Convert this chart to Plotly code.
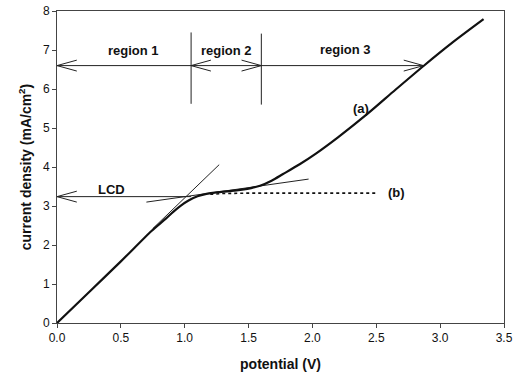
import plotly.graph_objects as go

# ---- data ----
pot_a = [0, 0.25, 0.5, 0.74, 0.85, 0.91, 0.97, 1.03, 1.1, 1.17, 1.25, 1.35, 1.45,
         1.52, 1.59, 1.68, 1.77, 1.9, 2.03, 2.2, 2.43, 2.65, 2.87, 3.1, 3.34]
cur_a = [0, 0.79, 1.58, 2.36, 2.67, 2.85, 3.01, 3.14, 3.25, 3.31, 3.35, 3.38, 3.42,
         3.46, 3.52, 3.65, 3.82, 4.07, 4.35, 4.76, 5.36, 5.98, 6.59, 7.2, 7.79]

pot_b = [1.2, 1.3, 1.5, 2.0, 2.51]
cur_b = [3.30, 3.32, 3.33, 3.33, 3.33]

# tangent lines
tan1_x = [0.75, 1.27]
tan1_y = [2.42, 4.06]
tan2_x = [0.70, 1.97]
tan2_y = [3.10, 3.69]

# horizontal arrows: (x_start, x_end, y, head_left, head_right)
arrow_x0 = [0.0, 1.05, 1.6, 0.0]
arrow_x1 = [1.05, 1.6, 2.87, 1.05]
arrow_y = [6.6, 6.6, 6.6, 3.24]
arrow_hl = [True, True, False, True]
arrow_hr = [False, True, True, False]

# vertical region dividers
div_x = [1.05, 1.6]
div_y0 = [5.62, 5.6]
div_y1 = [7.45, 7.42]

# text labels
lab_text = ["region 1", "region 2", "region 3", "LCD", "(a)", "(b)"]
lab_x = [0.6, 1.33, 2.26, 0.43, 2.38, 2.66]
lab_y = [7.0, 7.0, 7.02, 3.42, 5.5, 3.34]

x_ticks = [0, 0.5, 1.0, 1.5, 2.0, 2.5, 3.0, 3.5]
y_ticks = [0, 1, 2, 3, 4, 5, 6, 7, 8]

HEAD_DX = 0.155
HEAD_DY = 0.14
FONT = "Liberation Sans, Arial, sans-serif"

fig = go.Figure()

thin = dict(color="#222", width=1)
fig.add_trace(go.Scatter(x=tan1_x, y=tan1_y, mode="lines", line=thin, hoverinfo="skip"))
fig.add_trace(go.Scatter(x=tan2_x, y=tan2_y, mode="lines", line=thin, hoverinfo="skip"))

for x0, x1, y, hl, hr in zip(arrow_x0, arrow_x1, arrow_y, arrow_hl, arrow_hr):
    xs = [x0, x1]
    ys = [y, y]
    if hl:
        xs += [None, x0 + HEAD_DX, x0, x0 + HEAD_DX]
        ys += [None, y + HEAD_DY, y, y - HEAD_DY]
    if hr:
        xs += [None, x1 - HEAD_DX, x1, x1 - HEAD_DX]
        ys += [None, y + HEAD_DY, y, y - HEAD_DY]
    fig.add_trace(go.Scatter(x=xs, y=ys, mode="lines", line=thin, hoverinfo="skip"))

for x, y0, y1 in zip(div_x, div_y0, div_y1):
    fig.add_trace(go.Scatter(x=[x, x], y=[y0, y1], mode="lines", line=thin, hoverinfo="skip"))

fig.add_trace(go.Scatter(x=pot_b, y=cur_b, mode="lines",
                         line=dict(color="#111", width=1.6, dash="dot")))
fig.add_trace(go.Scatter(x=pot_a, y=cur_a, mode="lines",
                         line=dict(color="#111", width=2.2, shape="spline", smoothing=0.8)))

for t, x, y in zip(lab_text, lab_x, lab_y):
    fig.add_annotation(x=x, y=y, text="<b>" + t + "</b>", showarrow=False,
                       font=dict(family=FONT, size=13, color="#111"))

axis_common = dict(
    showline=True, linecolor="#444", linewidth=1, mirror=True,
    ticks="outside", ticklen=4, tickcolor="#444",
    showgrid=False, zeroline=False, automargin=False,
    tickfont=dict(family=FONT, size=12, color="#111"),
)

fig.update_layout(
    width=513, height=379,
    margin=dict(l=57, r=9, t=11, b=56),
    paper_bgcolor="white", plot_bgcolor="white",
    showlegend=False,
    xaxis=dict(range=[0, 3.5], tickvals=x_ticks, tickformat=".1f",
               title=dict(text="<b>potential (V)</b>", standoff=14,
                          font=dict(family=FONT, size=14, color="#111")),
               **axis_common),
    yaxis=dict(range=[0, 8], tickvals=y_ticks,
               title=dict(text="<b>current density (mA/cm<sup>2</sup>)</b>", standoff=8,
                          font=dict(family=FONT, size=14, color="#111")),
               **axis_common),
)

fig.write_html("out.html", config={"displayModeBar": False},
               post_script="document.body.style.margin='0';document.body.style.overflow='hidden';")
